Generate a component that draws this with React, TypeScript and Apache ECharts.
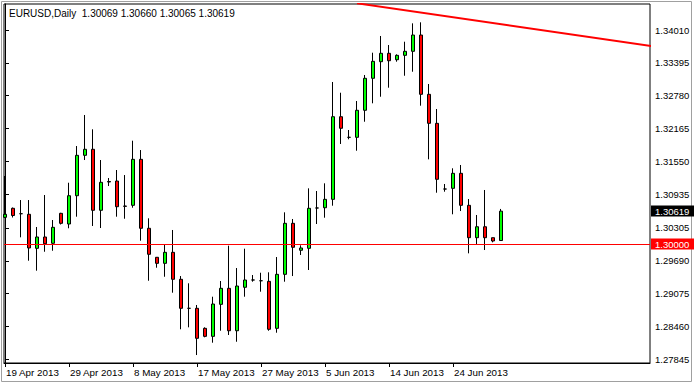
import React, { useEffect, useRef } from "react";
import * as echarts from "echarts";

const chartTitle = "EURUSD,Daily\u00a0\u00a01.30069 1.30660 1.30065 1.30619";

const dates = [
  "19 Apr 2013", "21 Apr 2013", "22 Apr 2013", "23 Apr 2013", "24 Apr 2013", "25 Apr 2013", "26 Apr 2013", "28 Apr 2013",
  "29 Apr 2013", "30 Apr 2013", "1 May 2013", "2 May 2013", "3 May 2013", "5 May 2013", "6 May 2013", "7 May 2013",
  "8 May 2013", "9 May 2013", "10 May 2013", "12 May 2013", "13 May 2013", "14 May 2013", "15 May 2013", "16 May 2013",
  "17 May 2013", "19 May 2013", "20 May 2013", "21 May 2013", "22 May 2013", "23 May 2013", "24 May 2013", "26 May 2013",
  "27 May 2013", "28 May 2013", "29 May 2013", "30 May 2013", "31 May 2013", "2 Jun 2013", "3 Jun 2013", "4 Jun 2013",
  "5 Jun 2013", "6 Jun 2013", "7 Jun 2013", "9 Jun 2013", "10 Jun 2013", "11 Jun 2013", "12 Jun 2013", "13 Jun 2013",
  "14 Jun 2013", "16 Jun 2013", "17 Jun 2013", "18 Jun 2013", "19 Jun 2013", "20 Jun 2013", "21 Jun 2013", "23 Jun 2013",
  "24 Jun 2013", "25 Jun 2013", "26 Jun 2013", "27 Jun 2013", "28 Jun 2013", "30 Jun 2013", "1 Jul 2013",
];

const opens = [
  1.30503, 1.30672, 1.30571, 1.30560, 1.29923, 1.30135, 1.30017, 1.30578, 1.30378, 1.30908,
  1.31664, 1.31777, 1.30635, 1.31164, 1.31183, 1.30715, 1.30728, 1.31589, 1.30298, 1.29755,
  1.29642, 1.29848, 1.29343, 1.28800, 1.28800, 1.28425, 1.28275, 1.28874, 1.29174, 1.28380,
  1.29193, 1.29330, 1.29316, 1.29305, 1.28425, 1.29436, 1.30391, 1.29886, 1.29923, 1.30678,
  1.30683, 1.30840, 1.32387, 1.32001, 1.32001, 1.32507, 1.33106, 1.33417, 1.33574, 1.33454,
  1.33536, 1.33611, 1.33916, 1.32806, 1.32263, 1.31033, 1.31046, 1.31327, 1.30728, 1.30122,
  1.30327, 1.30122, 1.30069,
];
const highs = [
  1.31277, 1.30687, 1.30827, 1.30827, 1.30322, 1.30921, 1.30453, 1.30588, 1.31151, 1.31838,
  1.32419, 1.32151, 1.31576, 1.31239, 1.31389, 1.31295, 1.31938, 1.31763, 1.30485, 1.29760,
  1.29985, 1.30266, 1.29404, 1.29268, 1.28862, 1.28444, 1.29017, 1.29311, 1.29972, 1.29554,
  1.29916, 1.29423, 1.29466, 1.29474, 1.29760, 1.30597, 1.30472, 1.29979, 1.31046, 1.30996,
  1.31140, 1.33037, 1.32836, 1.32138, 1.32681, 1.33168, 1.33585, 1.33898, 1.33729, 1.33555,
  1.33791, 1.34135, 1.34154, 1.32999, 1.32531, 1.31127, 1.31421, 1.31483, 1.30846, 1.30547,
  1.31015, 1.30122, 1.30660,
];
const lows = [
  1.30490, 1.30500, 1.30129, 1.29691, 1.29504, 1.29859, 1.29878, 1.30369, 1.30298, 1.30515,
  1.31576, 1.30341, 1.30303, 1.31089, 1.30515, 1.30477, 1.30683, 1.30065, 1.29316, 1.29560,
  1.29391, 1.29092, 1.28407, 1.28444, 1.27925, 1.28257, 1.28156, 1.28380, 1.28300, 1.28174,
  1.29017, 1.29298, 1.29111, 1.28380, 1.28343, 1.29298, 1.29404, 1.29798, 1.29517, 1.30378,
  1.30496, 1.30721, 1.31876, 1.31964, 1.31750, 1.32293, 1.32638, 1.32761, 1.32930, 1.33417,
  1.33154, 1.33229, 1.32593, 1.31589, 1.30964, 1.30983, 1.30560, 1.30621, 1.29829, 1.29985,
  1.29891, 1.30035, 1.30065,
];
const closes = [
  1.30560, 1.30537, 1.30571, 1.29929, 1.30135, 1.30009, 1.30316, 1.30391, 1.30908, 1.31664,
  1.31777, 1.30635, 1.31159, 1.31174, 1.30702, 1.30709, 1.31589, 1.30298, 1.29811, 1.29642,
  1.29848, 1.29343, 1.28800, 1.28800, 1.28238, 1.28275, 1.28880, 1.29174, 1.28380, 1.29217,
  1.29330, 1.29330, 1.29316, 1.28407, 1.29436, 1.30391, 1.29942, 1.29929, 1.30672, 1.30678,
  1.30840, 1.32387, 1.32170, 1.32001, 1.32507, 1.33106, 1.33424, 1.33574, 1.33435, 1.33536,
  1.33611, 1.33916, 1.32806, 1.32263, 1.31215, 1.31033, 1.31327, 1.30728, 1.30122, 1.30327,
  1.30122, 1.30060, 1.30619,
];

const yTickLabels = [
  "1.27845", "1.28460", "1.29075", "1.29690", "1.30305", "1.30935",
  "1.31550", "1.32165", "1.32780", "1.33395", "1.34010",
];
const xLabelIndices = [0, 8, 16, 24, 32, 40, 48, 56];

const trendLine = [
  [44, 1.3451],
  [82, 1.33684],
];
const levelPrice = 1.3;
const lastPrice = 1.30619;

const yMin = 1.27776;
const yMax = 1.34497;
const xMin = -0.125;
const xMax = 80.625;

const FONT = "Liberation Sans";
const FS = 9.5;

export default function App() {
  const ref = useRef<HTMLDivElement>(null);

  useEffect(() => {
    if (!ref.current) return;
    const chart = echarts.init(ref.current, undefined, { renderer: "svg" });
    const candleData = opens.map((o, i) => [i, o, closes[i], lows[i], highs[i]]);

    chart.setOption({
      animation: false,
      backgroundColor: "#ffffff",
      textStyle: { fontFamily: FONT, fontSize: FS, color: "#000" },
      grid: {
        left: 4,
        right: 44,
        top: 4,
        bottom: 20,
        containLabel: false,
        show: true,
        borderColor: "#000",
        borderWidth: 1,
        backgroundColor: "#fff",
      },
      xAxis: {
        type: "value",
        min: xMin,
        max: xMax,
        position: "bottom",
        splitLine: { show: false },
        axisLine: { show: true, onZero: false, lineStyle: { color: "#000", width: 1 } },
        axisTick: {
          show: true,
          length: 4,
          lineStyle: { color: "#000" },
          customValues: xLabelIndices,
        },
        axisLabel: {
          show: true,
          customValues: xLabelIndices,
          formatter: (v: number) => dates[Math.round(v)] ?? "",
          align: "left",
          margin: 4,
          color: "#000",
          fontFamily: FONT,
          fontSize: 9.8,
          padding: [0, 0, 0, 1],
        },
      },
      yAxis: {
        type: "value",
        position: "right",
        min: yMin,
        max: yMax,
        scale: true,
        splitLine: { show: false },
        axisLine: { show: true, lineStyle: { color: "#000", width: 1 } },
        axisTick: {
          show: true,
          length: 4,
          lineStyle: { color: "#000" },
          customValues: yTickLabels.map(Number),
        },
        axisLabel: {
          show: true,
          customValues: yTickLabels.map(Number),
          formatter: (v: number) => v.toFixed(5),
          margin: 5,
          color: "#000",
          fontFamily: FONT,
          fontSize: FS,
        },
      },
      series: [
        {
          type: "candlestick",
          data: candleData,
          encode: { x: 0, y: [1, 2, 3, 4] },
          barWidth: 4,
          clip: true,
          itemStyle: {
            color: "#00ff00",
            color0: "#ff0000",
            borderColor: "#000",
            borderColor0: "#000",
            borderColorDoji: "#000",
            borderWidth: 1,
          },
          markLine: {
            silent: true,
            symbol: "none",
            animation: false,
            label: { show: false },
            data: [
              {
                yAxis: levelPrice,
                lineStyle: { color: "#ff0000", width: 1, type: "solid" },
              },
            ],
          },
        },
        {
          type: "line",
          data: trendLine,
          symbol: "none",
          clip: true,
          silent: true,
          lineStyle: { color: "#ff0000", width: 2 },
        },
      ],
    });

    const yLevel = chart.convertToPixel({ yAxisIndex: 0 }, levelPrice) as number;
    const yLast = chart.convertToPixel({ yAxisIndex: 0 }, lastPrice) as number;
    const priceBox = (id: string, yc: number, text: string, bg: string) => [
      {
        id: id + "-bg",
        type: "rect",
        shape: { x: 651, y: Math.round(yc) - 5.5, width: 43, height: 11 },
        style: { fill: bg },
        silent: true,
        z: 100,
      },
      {
        id: id + "-tx",
        type: "text",
        x: 655,
        y: Math.round(yc),
        style: {
          text,
          fill: "#fff",
          fontFamily: FONT,
          fontSize: FS,
          verticalAlign: "middle",
          align: "left",
        },
        silent: true,
        z: 101,
      },
    ];

    chart.setOption({
      graphic: [
        {
          id: "frame",
          type: "rect",
          shape: { x: 1.5, y: 1.5, width: 690, height: 380 },
          style: { fill: "none", stroke: "#a0a0a0", lineWidth: 1 },
          silent: true,
        },
        {
          id: "title",
          type: "text",
          x: 9,
          y: 13,
          style: {
            text: chartTitle,
            fill: "#000",
            fontFamily: FONT,
            fontSize: 10,
            verticalAlign: "middle",
            align: "left",
          },
          silent: true,
        },
        ...priceBox("last", yLast, lastPrice.toFixed(5), "#000"),
        ...priceBox("level", yLevel, levelPrice.toFixed(5), "#ff0000"),
      ],
    });

    return () => chart.dispose();
  }, []);

  return (
    <div
      ref={ref}
      style={{ position: "fixed", left: 0, top: 0, width: 694, height: 383, background: "#fff" }}
    />
  );
}
